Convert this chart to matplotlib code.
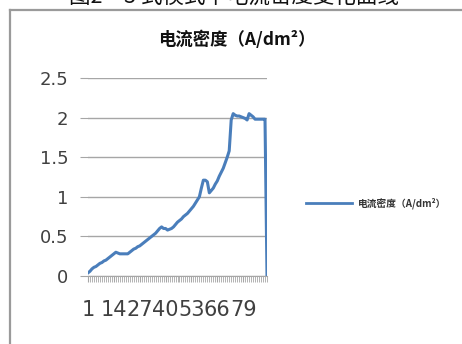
import matplotlib
matplotlib.use("Agg")
import matplotlib.pyplot as plt
from matplotlib.lines import Line2D

plt.rcParams['font.family'] = ['Noto Sans CJK SC', 'DejaVu Sans']

title = "电流密度（A/dm²）"
caption = "图2－3 式模式下电流密度变化曲线"
series_name = "电流密度（A/dm²）"

values = [0.04, 0.06, 0.09, 0.11, 0.12, 0.14, 0.16, 0.17, 0.19, 0.20,
          0.22, 0.24, 0.26, 0.28, 0.30, 0.29, 0.28, 0.28, 0.28, 0.28,
          0.28, 0.30, 0.32, 0.34, 0.35, 0.37, 0.38, 0.40, 0.42, 0.44,
          0.46, 0.48, 0.50, 0.52, 0.54, 0.57, 0.60, 0.62, 0.60, 0.60,
          0.58, 0.59, 0.60, 0.62, 0.65, 0.68, 0.70, 0.72, 0.75, 0.77,
          0.79, 0.82, 0.85, 0.88, 0.92, 0.96, 1.00, 1.11, 1.21, 1.21,
          1.19, 1.05, 1.08, 1.11, 1.16, 1.20, 1.26, 1.31, 1.36, 1.43,
          1.50, 1.58, 1.97, 2.05, 2.03, 2.02, 2.02, 2.01, 2.00, 1.99,
          1.97, 2.05, 2.03, 2.01, 1.98, 1.98, 1.98, 1.98, 1.98, 1.98,
          0.0]
categories = [str(i + 1) for i in range(len(values))]
label_step = 13
y_ticks = [0, 0.5, 1, 1.5, 2, 2.5]
y_labels = ["0", "0.5", "1", "1.5", "2", "2.5"]

fig = plt.figure(figsize=(4.62, 3.44), dpi=100)
fig.patch.set_facecolor("white")

# outer frame (top and left border of the embedded chart)
fig.add_artist(Line2D([10/462, 10/462], [0, 1 - 10/344], color="#9a9a9a", lw=1.6))
fig.add_artist(Line2D([10/462, 1], [1 - 10/344, 1 - 10/344], color="#9a9a9a", lw=1.6))

# caption of the page, cut off at the top edge
fig.text(234/462, 1 - 3/344, caption, ha="center", va="baseline", fontsize=15.5,
         color="#111111")

ax = fig.add_axes([88/462, 1 - 276/344, 179/462, 198/344])
x = list(range(len(values)))
ax.plot(x, values, color="#4A7EBB", lw=2.2, solid_joinstyle="round")

ax.set_xlim(0, len(values) - 1)
ax.set_ylim(0, 2.5)
ax.set_yticks(y_ticks)
ax.set_yticklabels(y_labels, fontsize=13, color="#404040", family=["DejaVu Sans"])
ax.yaxis.grid(True, color="#a6a6a6", lw=1)
ax.set_axisbelow(True)
ax.tick_params(axis="y", length=6, color="#a6a6a6", pad=8)

ax.set_xticks(x[::label_step])
ax.set_xticklabels(categories[::label_step], fontsize=15, color="#404040",
                   family=["DejaVu Sans"])
ax.set_xticks(x, minor=True)
ax.tick_params(axis="x", which="both", length=4, color="#a6a6a6", pad=13)

for s in ["top", "right", "left"]:
    ax.spines[s].set_visible(False)
ax.spines["bottom"].set_color("#a6a6a6")

fig.text(237/462, 1 - 40/344, title, ha="center", va="center", fontsize=12.5,
         fontweight="bold", color="#111111")

# legend
fig.add_artist(Line2D([306/462, 352/462], [1 - 203/344, 1 - 203/344],
                      color="#4A7EBB", lw=2))
fig.text(358/462, 1 - 203/344, series_name, ha="left", va="center", fontsize=7,
         color="#333333", fontweight="bold")

fig.savefig("out.png", dpi=100, facecolor="white")
